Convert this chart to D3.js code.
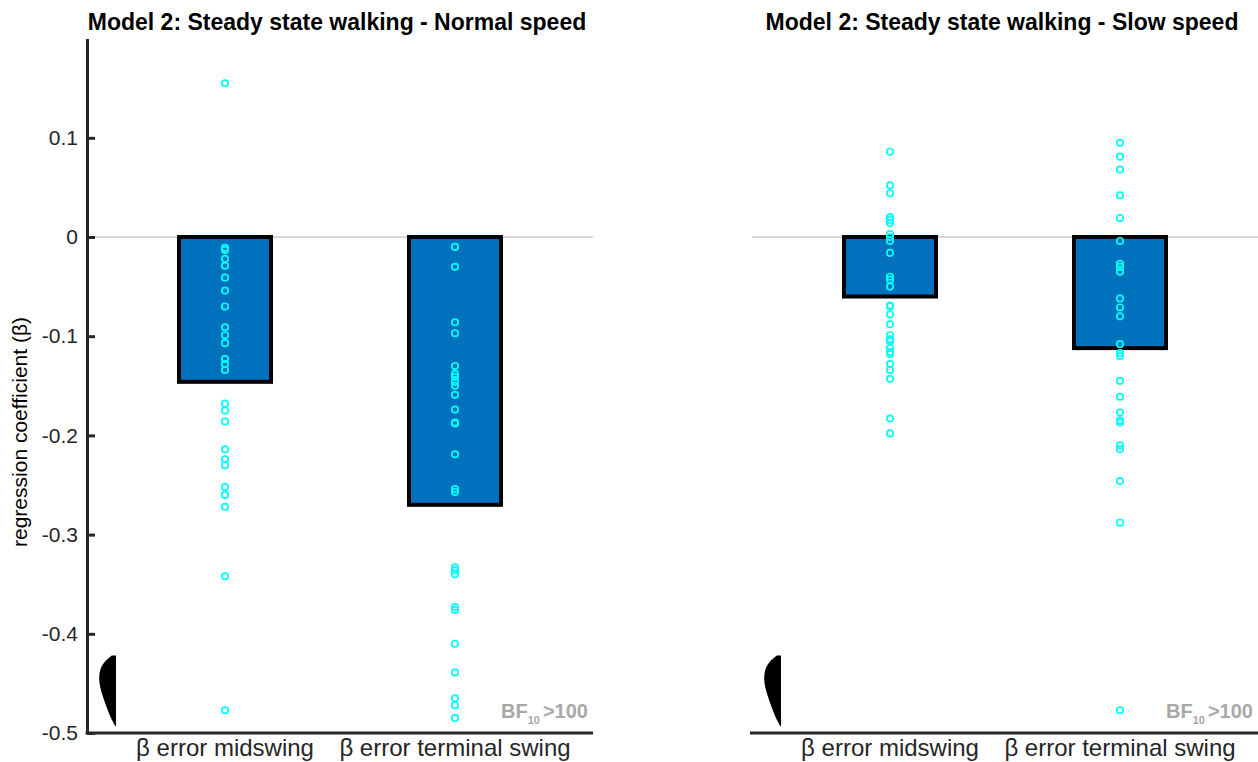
<!DOCTYPE html>
<html>
<head>
<meta charset="utf-8">
<script src="https://cdn.jsdelivr.net/npm/d3@7"></script>
<style>
  body { margin: 0; background: #fff; }
  svg { display: block; font-family: "Liberation Sans", Arial, Helvetica, sans-serif; }
</style>
</head>
<body>
<div class="chart"></div>
<script>
// ---- data ----
const panelTitles = [
  "Model 2: Steady state walking - Normal speed",
  "Model 2: Steady state walking - Slow speed"
];
const categories = ["β error midswing", "β error terminal swing"];

// bar heights (group estimate), per panel
const normalBars = [-0.146, -0.270];
const slowBars = [-0.060, -0.112];

// individual subject coefficients
const normalMidswing = [0.155, -0.011, -0.013, -0.022, -0.029, -0.041, -0.054, -0.070, -0.091, -0.099,
  -0.107, -0.123, -0.128, -0.134, -0.168, -0.175, -0.186, -0.214, -0.224, -0.230, -0.252, -0.260,
  -0.272, -0.342, -0.477];
const normalTerminal = [-0.010, -0.030, -0.086, -0.097, -0.130, -0.138, -0.141, -0.146, -0.150, -0.159,
  -0.174, -0.187, -0.188, -0.219, -0.254, -0.257, -0.333, -0.336, -0.340, -0.373, -0.376, -0.410,
  -0.439, -0.465, -0.472, -0.485];
const slowMidswing = [0.086, 0.052, 0.044, 0.020, 0.017, 0.014, 0.003, 0.000, -0.004, -0.016,
  -0.040, -0.043, -0.050, -0.069, -0.070, -0.078, -0.088, -0.099, -0.103, -0.105, -0.112, -0.116,
  -0.118, -0.128, -0.134, -0.143, -0.183, -0.198];
const slowTerminal = [0.095, 0.081, 0.068, 0.042, 0.019, -0.004, -0.027, -0.030, -0.035, -0.062,
  -0.071, -0.080, -0.108, -0.117, -0.120, -0.145, -0.161, -0.177, -0.185, -0.187, -0.210, -0.214,
  -0.246, -0.288, -0.477];

// small density glyph in the lower left corner of each panel
const densityProfile = [0.25, 0.75, 0.94, 1.0, 0.97, 0.88, 0.74, 0.6, 0.44, 0.28, 0.04];
const densityRange = [-0.422, -0.493];

const yTickValues = [-0.5, -0.4, -0.3, -0.2, -0.1, 0, 0.1];
const yTickLabels = ["-0.5", "-0.4", "-0.3", "-0.2", "-0.1", "0", "0.1"];
const bfLabel = ["BF", "10", ">100"];

const panels = [
  { title: panelTitles[0], bars: normalBars, points: [normalMidswing, normalTerminal], left: 87, showY: true },
  { title: panelTitles[1], bars: slowBars, points: [slowMidswing, slowTerminal], left: 752, showY: false }
];

const svg = d3.select(".chart")
  .append("svg")
    .attr("width", 1258)
    .attr("height", 762);

const yScale = d3.scaleLinear()
  .domain([-0.5, 0.2])
  .range([733, 38.6]);

const axisColor = "#262626";

const drawPanel = p => {
  const xScale = d3.scaleLinear()
    .domain([0.4, 2.6])
    .range([p.left, p.left + 506]);

  const g = svg.append("g");

  // zero line
  g.append("line")
    .attr("x1", xScale(0.4))
    .attr("x2", xScale(2.6))
    .attr("y1", yScale(0))
    .attr("y2", yScale(0))
    .attr("stroke", "#b0b0b0")
    .attr("stroke-width", 1);

  // bars
  g.selectAll("rect.bar")
    .data(p.bars)
    .join("rect")
      .attr("class", "bar")
      .attr("x", (d, i) => xScale(i + 1 - 0.2))
      .attr("width", xScale(1.2) - xScale(0.8))
      .attr("y", d => yScale(Math.max(0, d)))
      .attr("height", d => Math.abs(yScale(d) - yScale(0)))
      .attr("fill", "#0072BD")
      .attr("stroke", "#000")
      .attr("stroke-width", 4);

  // subject points
  p.points.forEach((vals, i) => {
    g.append("g")
      .selectAll("circle")
      .data(vals)
      .join("circle")
        .attr("cx", xScale(i + 1))
        .attr("cy", d => yScale(d))
        .attr("r", 3.2)
        .attr("fill", "none")
        .attr("stroke", "#00FFFF")
        .attr("stroke-width", 1.7);
  });

  // density glyph
  const dScale = d3.scaleLinear()
    .domain([0, densityProfile.length - 1])
    .range(densityRange);
  const right = xScale(0.526);
  const w = xScale(0.4 + 0.074) - xScale(0.4);
  const area = d3.area()
    .y((d, i) => yScale(dScale(i)))
    .x0(right)
    .x1(d => right - d * w)
    .curve(d3.curveBasis);
  g.append("path")
    .attr("d", area(densityProfile))
    .attr("fill", "#000");

  // BF label
  const bf = g.append("text")
    .attr("x", xScale(2.6) - 5)
    .attr("y", 718)
    .attr("text-anchor", "end")
    .attr("fill", "#a8a8a8")
    .style("font-weight", "bold")
    .style("font-size", "20px");
  bf.append("tspan").text(bfLabel[0]);
  bf.append("tspan").text(bfLabel[1]).attr("dy", 6).style("font-size", "11px");
  bf.append("tspan").text(bfLabel[2]).attr("dy", -6).attr("dx", 3);

  // bottom axis
  g.append("line")
    .attr("x1", xScale(0.4) - (p.showY ? 1.5 : 2))
    .attr("x2", xScale(2.6))
    .attr("y1", yScale(-0.5))
    .attr("y2", yScale(-0.5))
    .attr("stroke", axisColor)
    .attr("stroke-width", 3);

  g.selectAll("text.xlab")
    .data(categories)
    .join("text")
      .attr("class", "xlab")
      .text(d => d)
      .attr("x", (d, i) => xScale(i + 1))
      .attr("y", 756)
      .attr("text-anchor", "middle")
      .attr("fill", axisColor)
      .style("font-size", "24px");

  if (p.showY) {
    const yAxis = d3.axisLeft(yScale)
      .tickValues(yTickValues)
      .tickFormat((d, i) => yTickLabels[i])
      .tickSizeInner(-8)
      .tickSizeOuter(0)
      .tickPadding(9);

    const ya = g.append("g")
      .attr("transform", `translate(${xScale(0.4)},0)`)
      .call(yAxis);
    ya.select(".domain")
      .attr("stroke", axisColor)
      .attr("stroke-width", 3);
    ya.selectAll(".tick line")
      .attr("stroke", axisColor)
      .attr("stroke-width", 3);
    ya.selectAll(".tick text")
      .attr("fill", axisColor)
      .style("font-size", "21px")
      .style("font-family", "'Liberation Sans', Arial, sans-serif");
  }

  // title
  g.append("text")
    .text(p.title)
    .attr("x", (xScale(0.4) + xScale(2.6)) / 2 - 3)
    .attr("y", 30)
    .attr("text-anchor", "middle")
    .attr("fill", "#000")
    .style("font-weight", "bold")
    .style("font-size", "23px");
};

panels.forEach(drawPanel);

// y label
svg.append("text")
  .text("regression coefficient (β)")
  .attr("transform", `translate(27, 432) rotate(-90)`)
  .attr("text-anchor", "middle")
  .attr("fill", "#000")
  .style("font-size", "21px");
</script>
</body>
</html>
